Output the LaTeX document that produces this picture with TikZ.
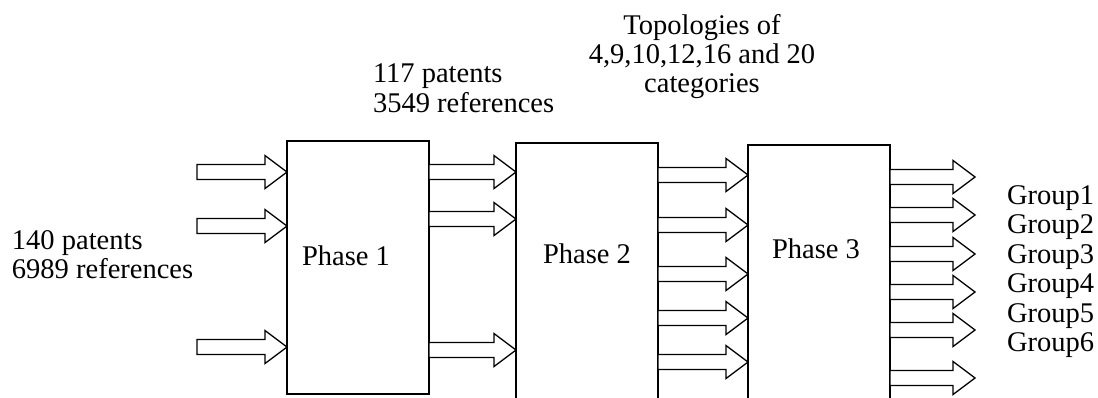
\documentclass[tikz,border=0pt]{standalone}
\usepackage{fontspec}
\setmainfont{Liberation Serif}
\usetikzlibrary{calc}

% horizontal block arrow from a tail point to a tip point
\newcommand\blockarrow[2]{%
  \draw[blk] let \p1=(#1), \p2=(#2) in
    (\x1,\y1+7.5pt) -- (\x2-22pt,\y1+7.5pt) -- (\x2-22pt,\y1+16.5pt) -- (\x2,\y1)
    -- (\x2-22pt,\y1-16.5pt) -- (\x2-22pt,\y1-7.5pt) -- (\x1,\y1-7.5pt) -- cycle;}

\begin{document}
\begin{tikzpicture}[x=1pt,y=-1pt,
  lbl/.style={inner sep=0pt, outer sep=0pt, font=\fontsize{28.5}{29.5}\selectfont, anchor=base west},
  clbl/.style={lbl, anchor=base},
  phasebox/.style={draw, line width=1.4pt, inner sep=0pt, outer sep=0pt,
    minimum width=142pt, anchor=north west},
  blk/.style={draw, line width=1.3pt, fill=white, line join=miter}]
\useasboundingbox (0,0) rectangle (1098,397);
\clip (0,0) rectangle (1098,397);

% the three processing phases
\node[phasebox, minimum height=253pt] (p1) at (287,141) {};
\node[phasebox, minimum height=300pt] (p2) at (516,143) {};
\node[phasebox, minimum height=300pt] (p3) at (748,145) {};
\node[lbl] (t1) at (302,265) {Phase 1};
\node[lbl] (t2) at (543,263) {Phase 2};
\node[lbl] (t3) at (772,258) {Phase 3};

% input
\coordinate (i1) at (197,172);
\coordinate (i2) at (197,226);
\coordinate (i3) at (197,347);
\blockarrow{i1}{p1.west |- i1}
\blockarrow{i2}{p1.west |- i2}
\blockarrow{i3}{p1.west |- i3}
\node[lbl] (in1) at (12,249) {140 patents};
\node[lbl] (in2) at (12,278) {6989 references};

% phase 1 to phase 2
\foreach \y in {172,219,350}{
  \coordinate (row) at (0,\y);
  \blockarrow{p1.east |- row}{p2.west |- row}
}
\node[lbl] (m1) at (373,82) {117 patents};
\node[lbl] (m2) at (373,112) {3549 references};

% phase 2 to phase 3
\foreach \y in {175,225,274,318,362}{
  \coordinate (row) at (0,\y);
  \blockarrow{p2.east |- row}{p3.west |- row}
}
\node[clbl] (c1) at (702,34) {Topologies of};
\node[clbl] (c2) at (702,63) {4,9,10,12,16 and 20};
\node[clbl] (c3) at (702,92) {categories};

% output groups
\foreach \y in {177,215,254,292,330,378}{
  \coordinate (row) at (0,\y);
  \coordinate (out) at (975,\y);
  \blockarrow{p3.east |- row}{out}
}
\foreach \k/\y in {1/204,2/233.5,3/263,4/292.5,5/322,6/351.5}
  \node[lbl] (g\k) at (1007,\y) {Group\k};
\end{tikzpicture}
\end{document}
